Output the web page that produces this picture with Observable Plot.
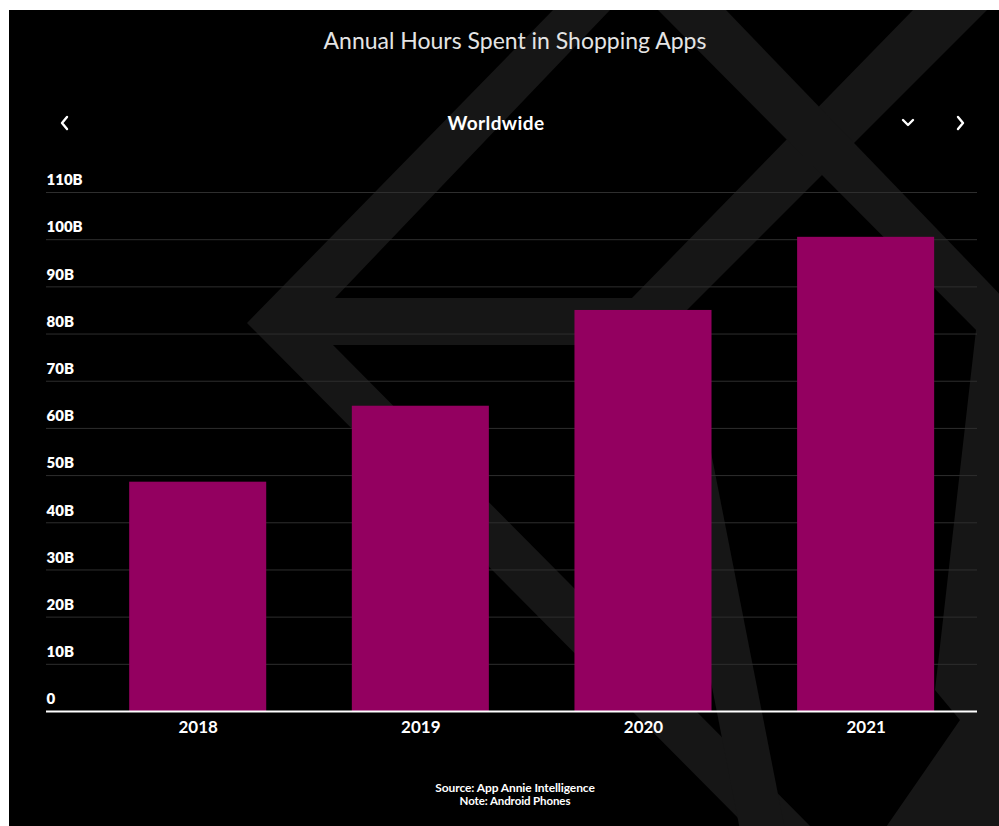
<!DOCTYPE html>
<html>
<head>
<meta charset="utf-8">
<script src="https://cdn.jsdelivr.net/npm/d3@7"></script>
<script src="https://cdn.jsdelivr.net/npm/@observablehq/plot@0.6"></script>
<style>
  html, body { margin: 0; padding: 0; background: #fff; width: 999px; height: 826px; overflow: hidden; }
  #panel { position: absolute; left: 9px; top: 10px; width: 990px; height: 816px; background: #000; overflow: hidden; }
  #deco { position: absolute; left: 0; top: 0; }
  .abs { position: absolute; white-space: nowrap; transform: translateX(-50%); font-family: Lato, "Open Sans", sans-serif; }
  #title { left: 515px; top: 27px; font-size: 23px; line-height: 26px; font-weight: 400; color: #e4e4e4; }
  #region { left: 496px; top: 112px; font-size: 19px; line-height: 22px; font-weight: 700; color: #fff; letter-spacing: 0.4px; }
  #source { left: 515px; top: 781px; font-size: 12px; line-height: 13px; font-weight: 700; color: #fff; text-align: center; letter-spacing: -0.1px; }
  #source .note { font-size: 11.5px; }
  #chart { position: absolute; left: 0; top: 150px; }
  #nav { position: absolute; left: 0; top: 0; }
</style>
</head>
<body>
<div id="panel"></div>
<svg id="deco" width="999" height="826" viewBox="0 0 999 826">
  <defs><clipPath id="pc"><rect x="9" y="10" width="990" height="816"/></clipPath></defs>
  <g clip-path="url(#pc)" fill="#161616" stroke="none">
    <polygon points="553,10 610,10 335,298 632,298 913,10 987,10 652,345 333,345 814,830 750,830 247,323"/>
    <polygon points="658,10 726,10 1040,336 982,336"/>
    <polygon points="645,345 690,345 785,830 740,830"/>
    <polygon points="976,330 1000,330 1000,830 884,830 960,720 935,690"/>
  </g>
</svg>
<div id="title" class="abs">Annual Hours Spent in Shopping Apps</div>
<div id="region" class="abs">Worldwide</div>
<svg id="nav" width="999" height="826">
  <g fill="none" stroke="#fff" stroke-width="2.4" stroke-linecap="round" stroke-linejoin="round">
    <path d="M67 117 L62 123 L67 129"/>
    <path d="M903 120 L908 125 L913 120"/>
    <path d="M958 117 L963 123 L958 129"/>
  </g>
</svg>
<div id="chart"></div>
<div id="source" class="abs">Source: App Annie Intelligence<br><span class="note">Note: Android Phones</span></div>
<script>
// Data (billions of hours)
const years = ["2018", "2019", "2020", "2021"];
const hours = [48.6, 64.7, 85.0, 100.5];
const yTicks = [0, 10, 20, 30, 40, 50, 60, 70, 80, 90, 100, 110];

const data = years.map((year, i) => ({year, hours: hours[i]}));

const chart = Plot.plot({
  width: 999,
  height: 610,
  marginLeft: 46,
  marginRight: 22,
  marginTop: 42,
  marginBottom: 49,
  style: {background: "transparent", color: "#fff", fontFamily: "Lato, 'Open Sans', sans-serif", overflow: "visible"},
  x: {type: "band", domain: years, paddingInner: 0.3845, paddingOuter: 0.283, align: 0.66, round: false, label: null},
  y: {domain: [0, 110], label: null},
  marks: [
    Plot.ruleY(yTicks, {stroke: "#2e2e2e", strokeWidth: 1}),
    Plot.barY(data, {x: "year", y: "hours", fill: "#930060"}),
    Plot.ruleY([0], {stroke: "#fff", strokeWidth: 2}),
    Plot.axisY(yTicks, {anchor: "left", tickSize: 0, tickPadding: 0, textAnchor: "start", dy: -12,
      tickFormat: d => d === 0 ? "0" : d + "B", fontSize: 15, fontWeight: 800, fill: "#fff", label: null}),
    Plot.axisX({tickSize: 0, tickPadding: 9, fontSize: 17, fontWeight: 700, fill: "#fff", label: null})
  ]
});
document.getElementById("chart").appendChild(chart);
</script>
</body>
</html>
